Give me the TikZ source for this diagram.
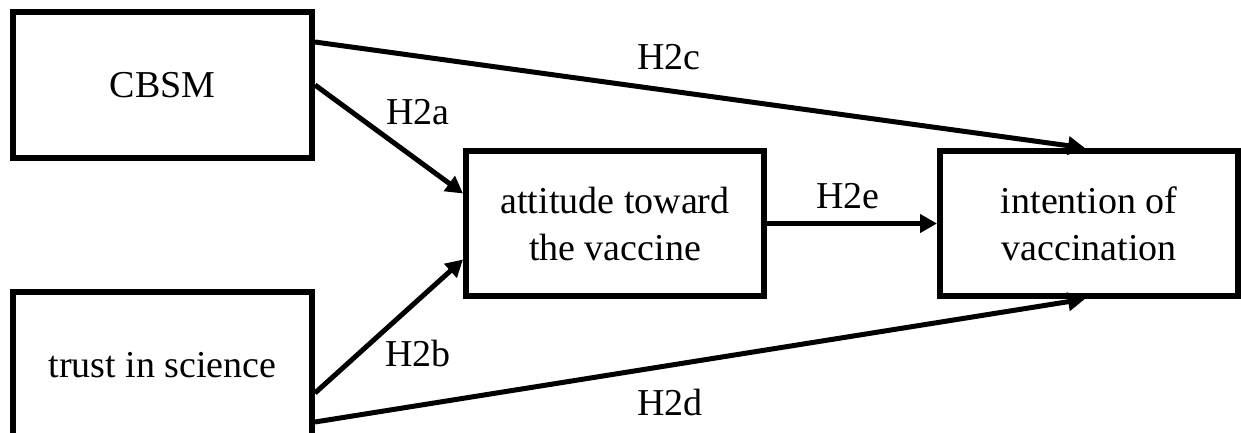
\documentclass[tikz,border=0pt]{standalone}
\usepackage{fontspec}
\setmainfont{Liberation Serif}
\usetikzlibrary{arrows.meta}
\begin{document}
\begin{tikzpicture}[x=1pt,y=-1pt,
  box/.style={draw=black,line width=6pt,fill=white,inner sep=0pt,align=center,
    font=\fontsize{38}{47}\selectfont},
  lbl/.style={inner sep=0pt,font=\fontsize{38}{47}\selectfont},
  arr/.style={line width=5pt,-{Triangle[length=17pt,width=18pt]}}]
\clip (0,0) rectangle (1241,433);
\fill[white] (0,0) rectangle (1241,433);
\node[box,minimum width=299pt,minimum height=146pt] (cbsm) at (162.5,85) {CBSM};
\node[box,minimum width=299pt,minimum height=146pt] (trust) at (162.5,365) {trust in science};
\node[box,minimum width=298pt,minimum height=145pt] (attitude) at (615,223.5) {attitude toward\\the vaccine};
\node[box,minimum width=298pt,minimum height=145pt] (intention) at (1089,223.5) {intention of\\vaccination};
\draw[arr] ([yshift=43pt]cbsm.east) -- ([xshift=-4pt]intention.north);
\draw[arr] (cbsm.east) -- ([yshift=30pt]attitude.west);
\draw[arr] ([yshift=-28pt]trust.east) -- ([yshift=-36pt]attitude.west);
\draw[arr] ([yshift=-57pt]trust.east) -- ([xshift=-4pt]intention.south);
\draw[arr] (attitude.east) -- (intention.west);
\node[lbl] (la) at (418,112) {H2a};
\node[lbl] (lb) at (418,353) {H2b};
\node[lbl] (lc) at (669,57) {H2c};
\node[lbl] (ld) at (670,402) {H2d};
\node[lbl] (le) at (848,196) {H2e};
\end{tikzpicture}
\end{document}
